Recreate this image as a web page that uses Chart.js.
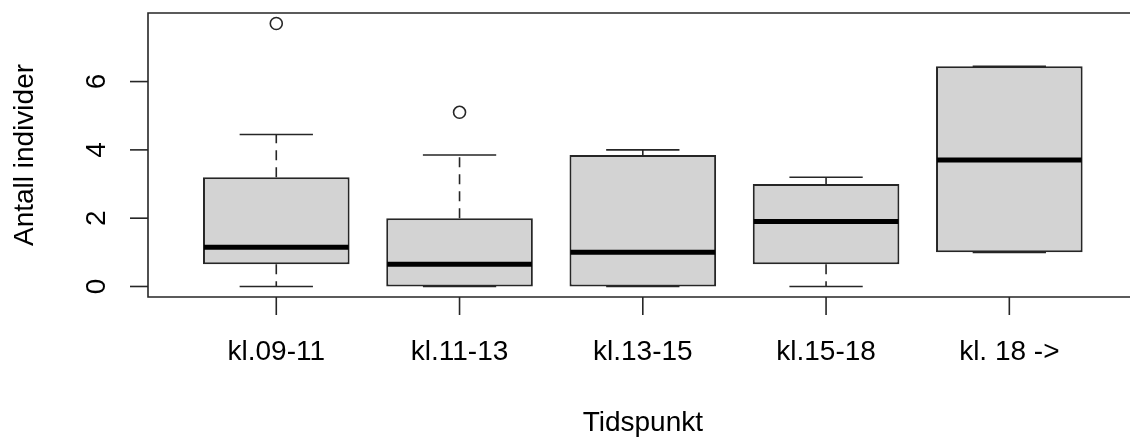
<!DOCTYPE html>
<html lang="en">

<head>
  <meta charset="UTF-8">
  <meta name="viewport" content="width=device-width, initial-scale=1.0">
  <script src="https://cdn.jsdelivr.net/npm/chart.js"></script>
  <title>Antall individer per tidspunkt</title>
  <style>
    body { margin: 0; background: #fff; overflow: hidden; }
  </style>
</head>

<body>
  <canvas id="myChart" width="1130" height="440"></canvas>

  <script>
    // boxplot values
    const categories = ['kl.09-11', 'kl.11-13', 'kl.13-15', 'kl.15-18', 'kl. 18 ->'];
    const whiskerLow = [0, 0, 0, 0, 1.0];
    const q1 = [0.65, 0, 0, 0.65, 1.0];
    const median = [1.15, 0.65, 1.0, 1.9, 3.7];
    const q3 = [3.2, 2.0, 3.85, 3.0, 6.45];
    const whiskerHigh = [4.45, 3.85, 4.0, 3.2, 6.45];
    const outliers = [[7.7], [5.1], [], [], []];
    const yTicks = [0, 2, 4, 6];

    const font = '"Liberation Sans", Arial, sans-serif';
    const ink = '#262626';

    const boxData = categories.map((c, i) => ({ x: i + 1, y: [q1[i], q3[i]] }));
    const outlierData = [];
    outliers.forEach((arr, i) => arr.forEach(v => outlierData.push({ x: i + 1, y: v })));

    // whiskers, staples, medians, axes and labels
    const boxplotExtras = {
      id: 'boxplotExtras',
      beforeDatasetsDraw(chart) {
        const { ctx, scales: { x, y } } = chart;
        ctx.save();
        ctx.strokeStyle = ink;
        ctx.lineWidth = 1.6;
        categories.forEach((c, i) => {
          const px = x.getPixelForValue(i + 1);
          ctx.setLineDash([10, 7]);
          ctx.beginPath();
          ctx.moveTo(px, y.getPixelForValue(q3[i]));
          ctx.lineTo(px, y.getPixelForValue(whiskerHigh[i]));
          ctx.moveTo(px, y.getPixelForValue(q1[i]));
          ctx.lineTo(px, y.getPixelForValue(whiskerLow[i]));
          ctx.stroke();
          ctx.setLineDash([]);
          const l = x.getPixelForValue(i + 1 - 0.2);
          const r = x.getPixelForValue(i + 1 + 0.2);
          ctx.beginPath();
          [whiskerHigh[i], whiskerLow[i]].forEach(v => {
            const py = y.getPixelForValue(v);
            ctx.moveTo(l, py);
            ctx.lineTo(r, py);
          });
          ctx.stroke();
        });
        ctx.restore();
      },
      afterDatasetsDraw(chart) {
        const { ctx, chartArea: a, scales: { x, y } } = chart;
        ctx.save();
        // medians
        ctx.strokeStyle = '#000';
        ctx.lineWidth = 5;
        categories.forEach((c, i) => {
          const py = y.getPixelForValue(median[i]);
          ctx.beginPath();
          ctx.moveTo(x.getPixelForValue(i + 1 - 0.4) + 1, py);
          ctx.lineTo(x.getPixelForValue(i + 1 + 0.4) - 1, py);
          ctx.stroke();
        });

        // plot frame (right side falls off the canvas)
        ctx.strokeStyle = ink;
        ctx.lineWidth = 1.6;
        ctx.beginPath();
        ctx.moveTo(chart.width + 5, a.top);
        ctx.lineTo(a.left, a.top);
        ctx.lineTo(a.left, a.bottom);
        ctx.lineTo(chart.width + 5, a.bottom);
        ctx.stroke();

        // y axis ticks and labels
        ctx.fillStyle = '#000';
        ctx.font = '28px ' + font;
        ctx.textAlign = 'center';
        ctx.textBaseline = 'middle';
        yTicks.forEach(t => {
          const py = y.getPixelForValue(t);
          ctx.beginPath();
          ctx.moveTo(a.left, py);
          ctx.lineTo(a.left - 18, py);
          ctx.stroke();
          ctx.save();
          ctx.translate(96, py);
          ctx.rotate(-Math.PI / 2);
          ctx.fillText(String(t), 0, 1);
          ctx.restore();
        });

        // x axis ticks and labels
        categories.forEach((c, i) => {
          const px = x.getPixelForValue(i + 1);
          ctx.beginPath();
          ctx.moveTo(px, a.bottom);
          ctx.lineTo(px, a.bottom + 18);
          ctx.stroke();
          ctx.fillText(c, px, 352);
        });

        // axis titles
        ctx.fillText('Tidspunkt', x.getPixelForValue(3), 423);
        ctx.save();
        ctx.translate(25, (a.top + a.bottom) / 2);
        ctx.rotate(-Math.PI / 2);
        ctx.fillText('Antall individer', 0, 0);
        ctx.restore();
        ctx.restore();
      }
    };

    const config = {
      data: {
        datasets: [{
          type: 'bar',
          data: boxData,
          backgroundColor: '#d3d3d3',
          borderColor: ink,
          borderWidth: 2,
          borderSkipped: false,
          categoryPercentage: 0.8,
          barPercentage: 1.0
        }, {
          type: 'scatter',
          data: outlierData,
          pointRadius: 6,
          pointBackgroundColor: 'rgba(255,255,255,0)',
          pointBorderColor: ink,
          pointBorderWidth: 1.6
        }]
      },
      options: {
        responsive: false,
        animation: false,
        devicePixelRatio: 1,
        layout: { padding: { left: 148, top: 13, right: 0, bottom: 143 } },
        plugins: { legend: { display: false }, tooltip: { enabled: false } },
        scales: {
          x: {
            type: 'linear',
            display: false,
            offset: false,
            min: 0.3,
            max: 5.617,
            afterBuildTicks: (scale) => {
              scale.ticks = categories.map((c, i) => ({ value: i + 1 }));
            }
          },
          y: {
            type: 'linear',
            display: false,
            min: -0.308,
            max: 8.008
          }
        }
      },
      plugins: [boxplotExtras]
    };

    const myChart = new Chart(document.getElementById('myChart'), config);
  </script>
</body>

</html>
